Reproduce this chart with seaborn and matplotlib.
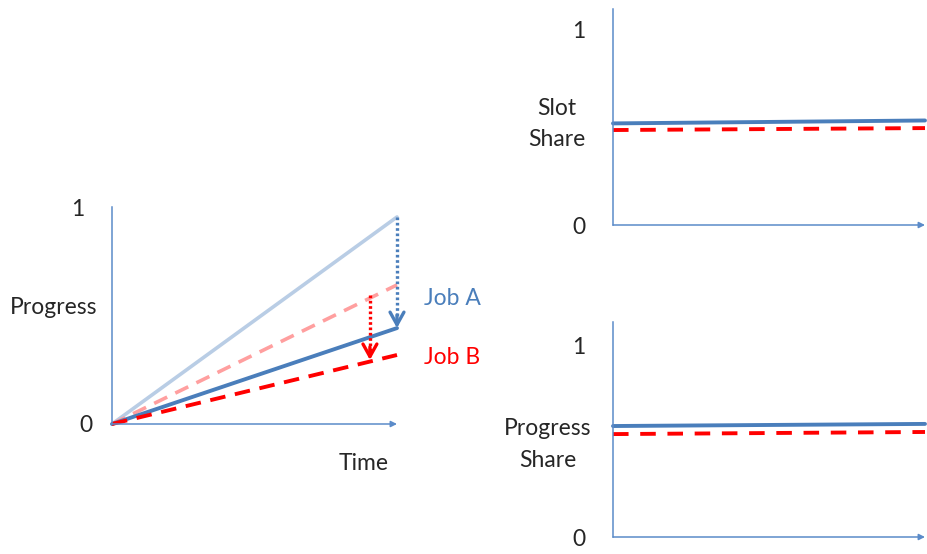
import numpy as np
import matplotlib.pyplot as plt
import seaborn as sns

sns.set_style("white")
plt.rcParams["font.family"] = ["Lato", "DejaVu Sans"]

# %% DATA
time = [0, 1]
job_a_alone = [0, 0.954]     # light blue, solid
job_b_alone = [0, 0.641]     # light red, dashed
job_a_shared = [0, 0.442]    # blue, solid
job_b_shared = [0, 0.318]    # red, dashed
drop_b_time = 0.905
drop_b_from, drop_b_to = 0.594, 0.295

share_x = [0, 1]
slot_share_a = [0.521, 0.536]
slot_share_b = [0.487, 0.497]
progress_share_a = [0.578, 0.589]
progress_share_b = [0.536, 0.547]

BLUE = "#4a7ebb"
LIGHT_BLUE = "#b9cde5"
RED = "#ff0000"
LIGHT_RED = "#ff9f9f"
AXIS = "#5b8bc9"
FS = 16.5
W, H = 927, 554


def make_axes(left, right, top, bottom):
    return fig.add_axes([left / W, 1 - bottom / H, (right - left) / W, (bottom - top) / H])


def style_axes(ax, ytop, pad0, pad1):
    ax.set_xlim(0, 1)
    ax.set_ylim(0, ytop)
    for s in ["top", "right", "bottom"]:
        ax.spines[s].set_visible(False)
    ax.spines["left"].set_color(AXIS)
    ax.spines["left"].set_linewidth(1.1)
    ax.set_xticks([])
    ax.set_yticks([0, 1])
    ax.set_yticklabels(["0", "1"], fontsize=FS)
    ax.tick_params(axis="y", length=0)
    ticks = ax.yaxis.get_major_ticks()
    ticks[0].set_pad(pad0)
    ticks[1].set_pad(pad1)
    ax.annotate("", xy=(1.0, 0), xytext=(0, 0), xycoords="axes fraction",
                arrowprops=dict(arrowstyle="-|>", color=AXIS, lw=1.1,
                                mutation_scale=9, shrinkA=0, shrinkB=0))
    ax.patch.set_alpha(0)


def line(ax, x, y, color, lw=2.8, ls="-"):
    sns.lineplot(x=x, y=y, ax=ax, color=color, lw=lw, linestyle=ls,
                 estimator=None, sort=False, clip_on=False)


fig = plt.figure(figsize=(W / 100, H / 100), dpi=100)

# %% LEFT: progress over time
ax = make_axes(112, 397, 207, 424)
style_axes(ax, 1.0, 14, 20)
line(ax, time, job_a_alone, LIGHT_BLUE, lw=2.6)
line(ax, time, job_b_alone, LIGHT_RED, lw=2.6, ls=(0, (4, 2.5)))
line(ax, time, job_a_shared, BLUE)
line(ax, time, job_b_shared, RED, ls=(0, (4, 2.5)))

# dotted drop arrows
line(ax, [time[1], time[1]], [job_a_alone[1], job_a_shared[1] + 0.03], BLUE,
     lw=2.4, ls=(0, (0.8, 0.8)))
ax.annotate("", xy=(time[1], job_a_shared[1]), xytext=(time[1], job_a_shared[1] + 0.06),
            arrowprops=dict(arrowstyle="->,head_length=0.45,head_width=0.25", color=BLUE,
                            lw=2.4, mutation_scale=20, shrinkA=0, shrinkB=0),
            annotation_clip=False)
line(ax, [drop_b_time, drop_b_time], [drop_b_from, drop_b_to + 0.03], RED,
     lw=2.4, ls=(0, (0.8, 0.8)))
ax.annotate("", xy=(drop_b_time, drop_b_to), xytext=(drop_b_time, drop_b_to + 0.06),
            arrowprops=dict(arrowstyle="->,head_length=0.45,head_width=0.25", color=RED,
                            lw=2.4, mutation_scale=20, shrinkA=0, shrinkB=0))

ax.set_ylabel("Progress", rotation=0, fontsize=FS, ha="center", va="center")
ax.yaxis.set_label_coords(-0.204, 0.539)
ax.set_xlabel("")
ax.text(0.884, -0.184, "Time", transform=ax.transAxes, fontsize=FS,
        ha="center", va="center")
ax.text(1.095, 0.58, "Job A", transform=ax.transAxes, color=BLUE, fontsize=FS, va="center")
ax.text(1.095, 0.305, "Job B", transform=ax.transAxes, color=RED, fontsize=FS, va="center")

# %% TOP RIGHT: slot share
ax2 = make_axes(613, 925, 9, 225)
style_axes(ax2, 216 / 195, 20, 20)
line(ax2, share_x, slot_share_a, BLUE)
line(ax2, share_x, slot_share_b, RED, ls=(0, (4, 3)))
ax2.set_ylabel("Slot\nShare", rotation=0, fontsize=FS, ha="center", va="center",
               linespacing=1.55)
ax2.yaxis.set_label_coords(-0.18, 0.468)

# %% BOTTOM RIGHT: progress share
ax3 = make_axes(613, 925, 322, 537)
style_axes(ax3, 215 / 192, 20, 20)
line(ax3, share_x, progress_share_a, BLUE)
line(ax3, share_x, progress_share_b, RED, ls=(0, (4, 3)))
ax3.set_ylabel("Progress\nShare", rotation=0, fontsize=FS, ha="center", va="center",
               linespacing=1.6)
ax3.yaxis.set_label_coords(-0.21, 0.43)

fig.savefig("out.png", dpi=100)
